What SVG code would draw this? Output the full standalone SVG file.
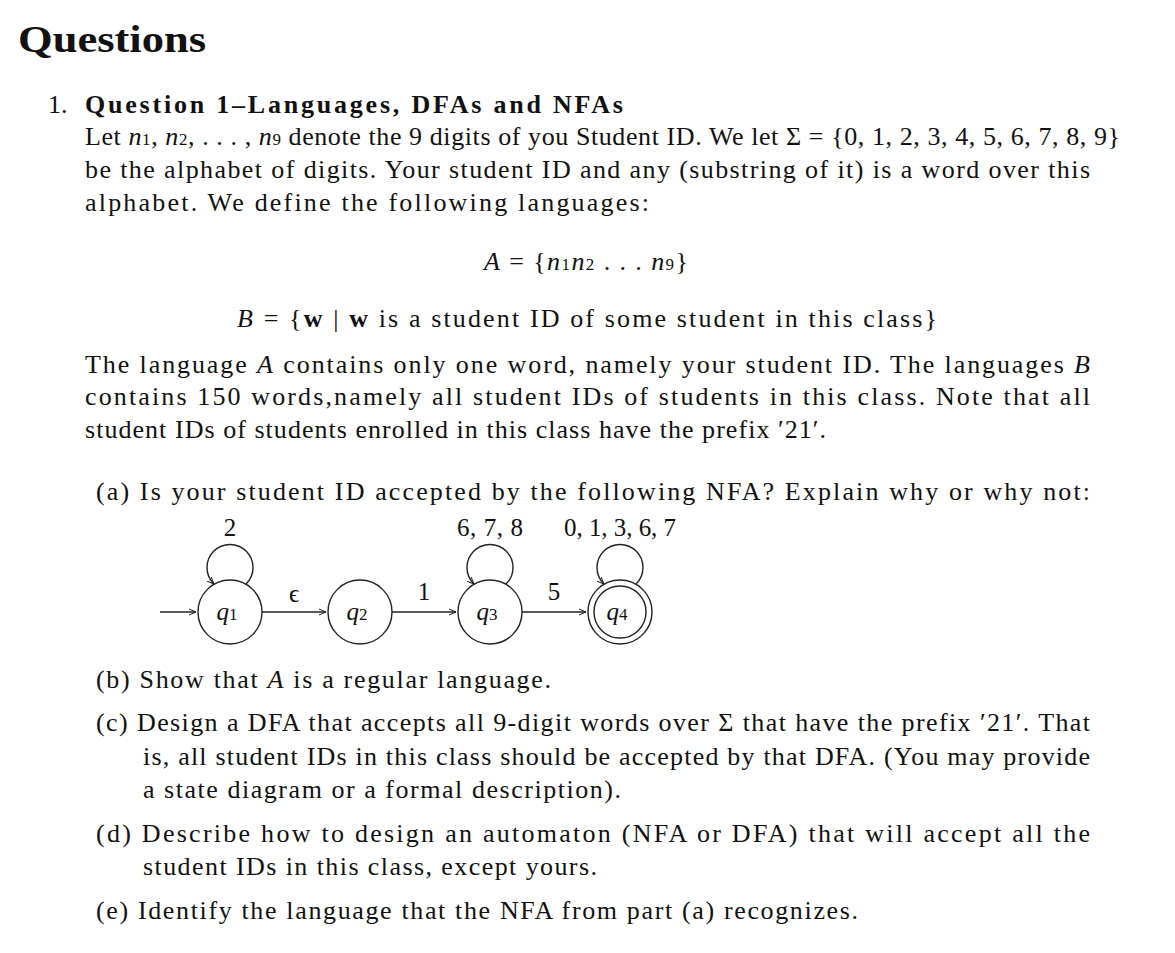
<svg xmlns="http://www.w3.org/2000/svg" width="1175" height="953" viewBox="0 0 1175 953">
<style>
text{font-family:"Liberation Serif",serif;font-size:26px;fill:#111}
.i{font-style:italic}
.s{font-size:17px}
.st{fill:#fff;stroke:#222;stroke-width:1.4}
.e{fill:none;stroke:#222;stroke-width:1.4}
.lab{font-size:25px;text-anchor:middle}
</style>
<defs><marker id="a" markerWidth="8" markerHeight="8" refX="7" refY="4" orient="auto" markerUnits="userSpaceOnUse"><path d="M0,1 L7,4 L0,7" fill="none" stroke="#222" stroke-width="1"/></marker></defs>
<rect width="1175" height="953" fill="#fff"/>
<text x="18" y="52" style="font-size:38px;font-weight:600" textLength="188" lengthAdjust="spacingAndGlyphs">Questions</text>
<text x="48" y="113">1.</text>
<text x="85" y="113" style="font-weight:bold" textLength="538" lengthAdjust="spacing">Question 1–Languages, DFAs and NFAs</text>
<text x="85" y="145" textLength="1035" lengthAdjust="spacing">Let <tspan class="i">n</tspan><tspan class="s">1</tspan>, <tspan class="i">n</tspan><tspan class="s">2</tspan>, . . . , <tspan class="i">n</tspan><tspan class="s">9</tspan> denote the 9 digits of you Student ID. We let Σ = {0, 1, 2, 3, 4, 5, 6, 7, 8, 9}</text>
<text x="85" y="178" textLength="1005" lengthAdjust="spacing">be the alphabet of digits. Your student ID and any (substring of it) is a word over this</text>
<text x="85" y="211" textLength="564" lengthAdjust="spacing">alphabet. We define the following languages:</text>
<text x="484" y="270" textLength="204" lengthAdjust="spacing"><tspan class="i">A</tspan> = {<tspan class="i">n</tspan><tspan class="s">1</tspan><tspan class="i">n</tspan><tspan class="s">2</tspan> . . . <tspan class="i">n</tspan><tspan class="s">9</tspan>}</text>
<text x="237" y="327" textLength="700" lengthAdjust="spacing"><tspan class="i">B</tspan> = {<tspan font-weight="bold">w</tspan>  |  <tspan font-weight="bold">w</tspan> is a student ID of some student in this class}</text>
<text x="85" y="373" textLength="1005" lengthAdjust="spacing">The language <tspan class="i">A</tspan> contains only one word, namely your student ID. The languages <tspan class="i">B</tspan></text>
<text x="85" y="405" textLength="1005" lengthAdjust="spacing">contains 150 words,namely all student IDs of students in this class.  Note that all</text>
<text x="85" y="438" textLength="741" lengthAdjust="spacing">student IDs of students enrolled in this class have the prefix ′21′.</text>
<text x="96" y="500" textLength="994" lengthAdjust="spacing">(a) Is your student ID accepted by the following NFA? Explain why or why not:</text>
<g id="connectors">
<path class="e" d="M160,612 H196" marker-end="url(#a)"/>
<path class="e" d="M262,612 H326" marker-end="url(#a)"/>
<path class="e" d="M392,612 H456" marker-end="url(#a)"/>
<path class="e" d="M522,612 H586" marker-end="url(#a)"/>
<path class="e" d="M246,584 A23,23 0 1 0 214,584" marker-end="url(#a)"/>
<path class="e" d="M506,584 A23,23 0 1 0 474,584" marker-end="url(#a)"/>
<path class="e" d="M636,584 A23,23 0 1 0 604,584" marker-end="url(#a)"/>
<text class="lab" x="230" y="536">2</text>
<text class="lab" x="294" y="602">ϵ</text>
<text class="lab" x="424" y="600">1</text>
<text class="lab" x="490" y="536" textLength="66" lengthAdjust="spacing">6, 7, 8</text>
<text class="lab" x="620" y="536" textLength="112" lengthAdjust="spacing">0, 1, 3, 6, 7</text>
<text class="lab" x="554" y="600">5</text>
</g>
<g id="q1"><circle class="st" cx="230" cy="612" r="32"/><text class="lab i" x="227" y="620">q<tspan class="s" font-style="normal">1</tspan></text></g>
<g id="q2"><circle class="st" cx="360" cy="612" r="32"/><text class="lab i" x="357" y="620">q<tspan class="s" font-style="normal">2</tspan></text></g>
<g id="q3"><circle class="st" cx="490" cy="612" r="32"/><text class="lab i" x="487" y="620">q<tspan class="s" font-style="normal">3</tspan></text></g>
<g id="q4"><circle class="st" cx="620" cy="612" r="32"/><circle class="e" cx="620" cy="612" r="26"/><text class="lab i" x="617" y="620">q<tspan class="s" font-style="normal">4</tspan></text></g>
<text x="96" y="688" textLength="455" lengthAdjust="spacing">(b) Show that <tspan class="i">A</tspan> is a regular language.</text>
<text x="96" y="731" textLength="994" lengthAdjust="spacing">(c) Design a DFA that accepts all 9-digit words over Σ that have the prefix ′21′. That</text>
<text x="143" y="765" textLength="947" lengthAdjust="spacing">is, all student IDs in this class should be accepted by that DFA. (You may provide</text>
<text x="143" y="798" textLength="478" lengthAdjust="spacing">a state diagram or a formal description).</text>
<text x="96" y="842" textLength="994" lengthAdjust="spacing">(d) Describe how to design an automaton (NFA or DFA) that will accept all the</text>
<text x="143" y="875" textLength="454" lengthAdjust="spacing">student IDs in this class, except yours.</text>
<text x="96" y="919" textLength="762" lengthAdjust="spacing">(e) Identify the language that the NFA from part (a) recognizes.</text>
</svg>
